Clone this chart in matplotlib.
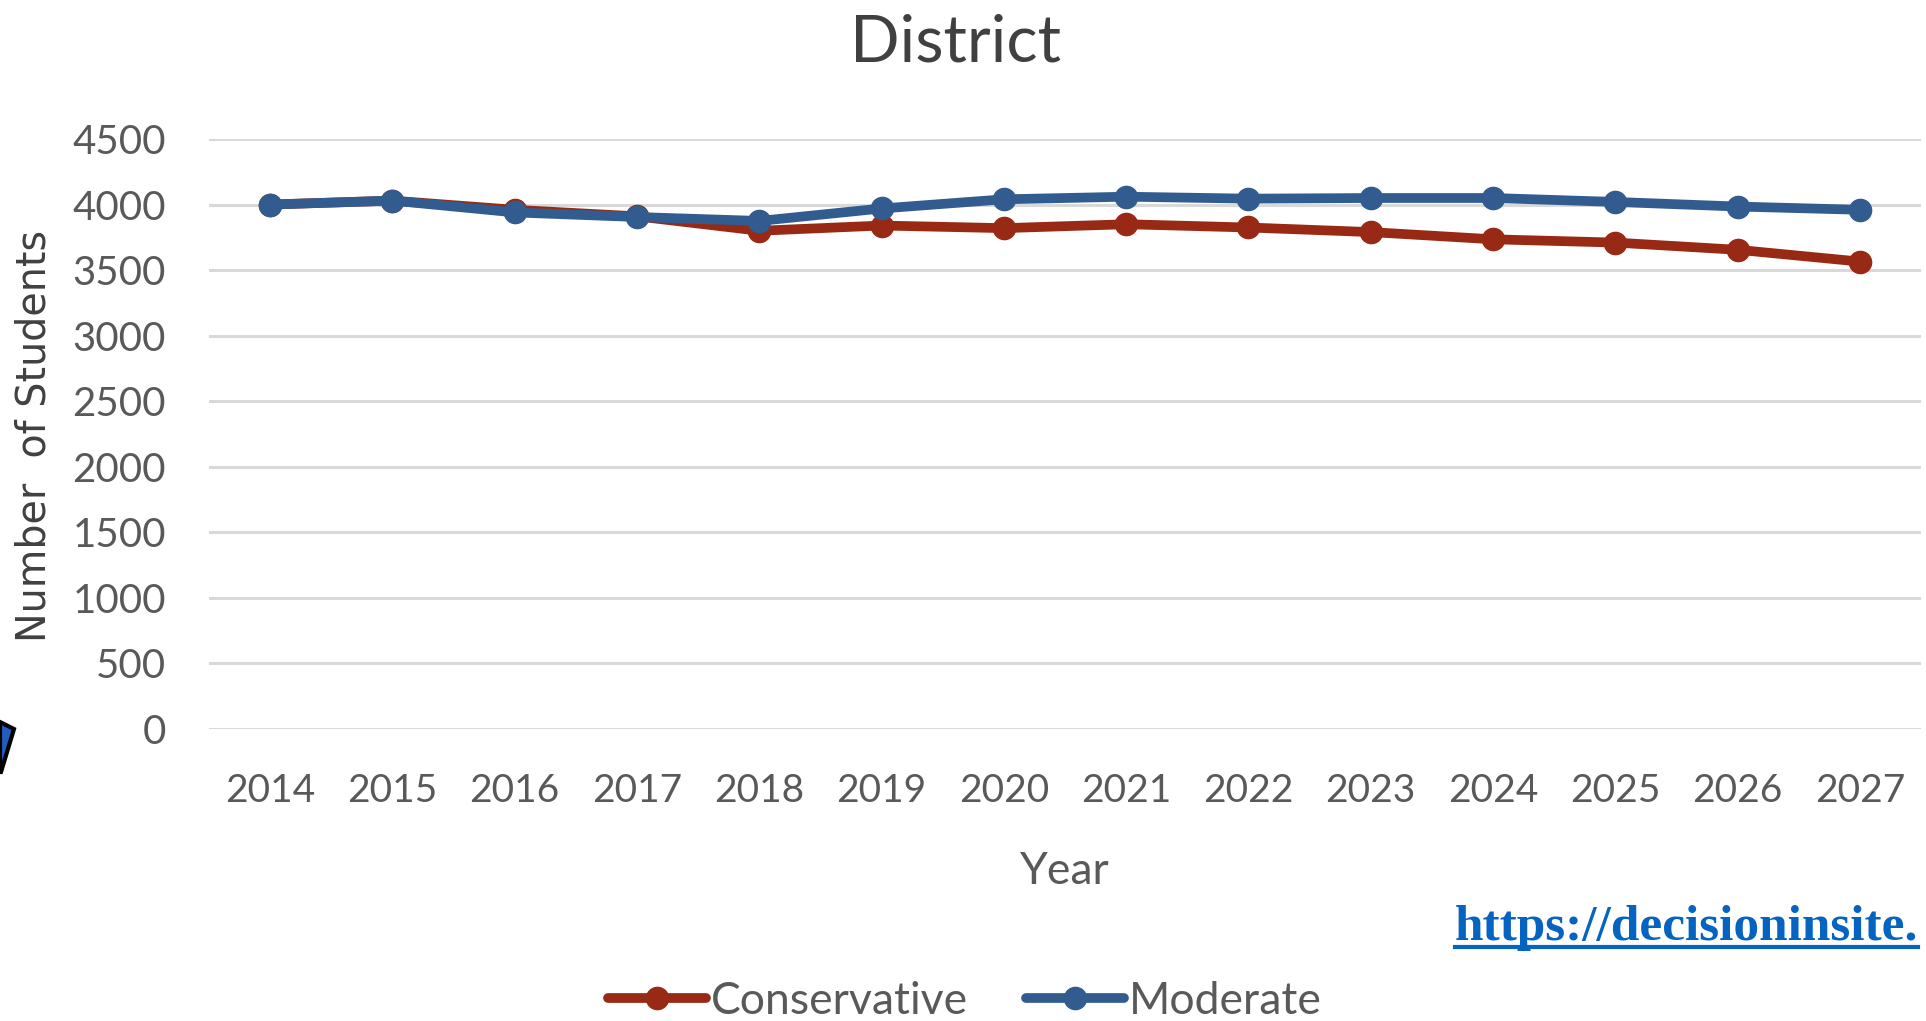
import matplotlib
matplotlib.use("Agg")
import matplotlib.pyplot as plt
from matplotlib.lines import Line2D
from matplotlib.patches import Polygon

years = ["2014", "2015", "2016", "2017", "2018", "2019", "2020",
         "2021", "2022", "2023", "2024", "2025", "2026", "2027"]
conservative = [4000, 4030, 3960, 3910, 3800, 3840, 3820,
                3850, 3825, 3790, 3735, 3710, 3655, 3565]
moderate = [4000, 4030, 3940, 3905, 3875, 3970, 4040,
            4060, 4045, 4050, 4050, 4020, 3985, 3960]
yticks = [0, 500, 1000, 1500, 2000, 2500, 3000, 3500, 4000, 4500]

RED = "#982A15"
BLUE = "#325C8F"
TICK = "#595959"
DARK = "#404040"

W, H = 1926, 1021
fig = plt.figure(figsize=(W / 100, H / 100), dpi=100)
fig.patch.set_facecolor("white")

ax = fig.add_axes([209 / W, 1 - 729 / H, (1921 - 209) / W, (729 - 139) / H])
x = list(range(len(years)))
ax.plot(x, conservative, color=RED, lw=7, marker="o", ms=16,
        solid_capstyle="round", label="Conservative", zorder=3)
ax.plot(x, moderate, color=BLUE, lw=7, marker="o", ms=16,
        solid_capstyle="round", label="Moderate", zorder=4)

ax.set_xlim(-0.5, len(years) - 0.5)
ax.set_ylim(0, 4500)
ax.set_yticks(yticks)
ax.set_yticklabels([str(v) for v in yticks])
ax.set_xticks(x)
ax.set_xticklabels(years)
ax.yaxis.grid(True, color="#D9D9D9", lw=2.2, zorder=0)
ax.set_axisbelow(True)
for s in ax.spines.values():
    s.set_visible(False)
ax.tick_params(axis="both", length=0)
ax.tick_params(axis="y", pad=31, labelsize=29, labelcolor=TICK)
ax.tick_params(axis="x", pad=32, labelsize=28, labelcolor=TICK)
for lab in ax.get_yticklabels():
    lab.set_family(["Lato", "DejaVu Sans"])
for lab in ax.get_xticklabels():
    lab.set_family(["Lato", "DejaVu Sans"])

ax.set_xlabel("Year", fontsize=32, color=TICK, labelpad=30,
              family=["Lato", "DejaVu Sans"])

fig.text(955 / W, 1 - 61 / H, "District", ha="center", va="baseline",
         fontsize=47, color=DARK, family=["Lato", "DejaVu Sans"])

fig.text(35 / W, 1 - 436 / H, "Number  of Students", rotation=90,
         ha="center", va="center", fontsize=28.5, color=DARK,
         family=["DejaVu Sans"])

leg = fig.legend(loc="center", bbox_to_anchor=(965 / W, 1 - 1001 / H),
                 ncol=2, frameon=False, handlelength=2.2,
                 handletextpad=0.12, columnspacing=1.3,
                 prop={"family": ["Lato", "DejaVu Sans"], "size": 32})
for t in leg.get_texts():
    t.set_color(TICK)

url = fig.text(1455 / W, 1 - 940 / H, "https://decisioninsite.",
               ha="left", va="baseline", fontsize=37, fontweight="bold",
               color="#0563C1", family=["Liberation Serif", "DejaVu Serif"])

fig.canvas.draw()
bb = url.get_window_extent(fig.canvas.get_renderer())
uy = (bb.y0 + 4) / H
fig.add_artist(Line2D([bb.x0 / W, bb.x1 / W], [uy, uy], color="#0563C1",
                      lw=3, transform=fig.transFigure))

icon_blue = Polygon([(0, 1 - 722 / H), (14 / W, 1 - 729 / H),
                     (1 / W, 1 - 772 / H), (0, 1 - 772 / H)],
                    closed=True, transform=fig.transFigure,
                    facecolor="#1F5FC0", edgecolor="black", lw=3)
fig.add_artist(icon_blue)

fig.savefig("out.png", dpi=100, facecolor="white")
